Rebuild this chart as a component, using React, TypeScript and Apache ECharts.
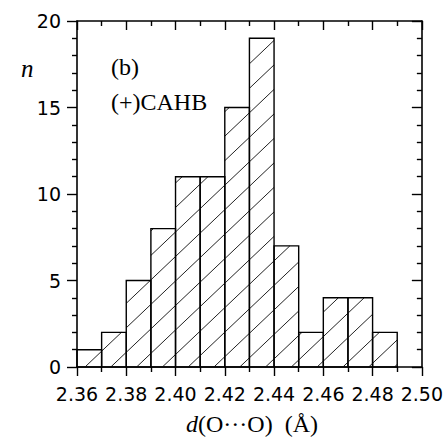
import React, { useEffect, useRef } from "react";
import * as echarts from "echarts";

// bin left edges (Å), bin width 0.01
const binStarts = [2.36, 2.37, 2.38, 2.39, 2.40, 2.41, 2.42, 2.43, 2.44, 2.45, 2.46, 2.47, 2.48];
const binWidth = 0.01;
const counts = [1, 2, 5, 8, 11, 11, 15, 19, 7, 2, 4, 4, 2];
const xTickLabels = ["2.36", "2.38", "2.40", "2.42", "2.44", "2.46", "2.48", "2.50"];
const yTickLabels = ["0", "5", "10", "15", "20"];

const SERIF = "Liberation Serif";
const SANS = "DejaVu Sans";

export default function App() {
  const ref = useRef<HTMLDivElement>(null);
  useEffect(() => {
    if (!ref.current) return;
    const chart = echarts.init(ref.current, undefined, { renderer: "svg" });
    const data = binStarts.map((s, i) => [s, +(s + binWidth).toFixed(2), counts[i]]);
    const slope = 0.95;
    const spacing = 24.5;
    const c0 = 447.75;
    const axisCommon = {
      type: "value" as const,
      splitLine: { show: false },
      axisLine: { show: true, onZero: false, lineStyle: { color: "#000", width: 1.6 } },
    };
    const tickStyle = { color: "#000", width: 1.4 };
    const option: any = {
      animation: false,
      backgroundColor: "#fff",
      grid: { left: 77, right: 22, top: 21, bottom: 71, containLabel: false },
      xAxis: [
        {
          ...axisCommon,
          position: "bottom",
          min: 2.36,
          max: 2.5,
          interval: 0.02,
          axisTick: { show: true, inside: false, length: 9, lineStyle: tickStyle },
          minorTick: { show: true, splitNumber: 2, length: 5, lineStyle: tickStyle },
          axisLabel: {
            show: true,
            margin: 17,
            color: "#000",
            fontFamily: SANS,
            fontSize: 19,
            showMaxLabel: true,
            showMinLabel: true,
            formatter: (v: number) => {
              const idx = Math.round((v - 2.36) / 0.02);
              return xTickLabels[idx] ?? v.toFixed(2);
            },
          },
        },
        {
          ...axisCommon,
          position: "top",
          min: 2.36,
          max: 2.5,
          interval: 0.02,
          axisTick: { show: true, inside: true, length: 9, lineStyle: tickStyle },
          minorTick: { show: true, splitNumber: 2, length: 5, lineStyle: tickStyle },
          axisLabel: { show: false },
        },
      ],
      yAxis: [
        {
          ...axisCommon,
          position: "left",
          min: 0,
          max: 20,
          interval: 5,
          axisTick: { show: true, inside: false, length: 10, lineStyle: tickStyle },
          minorTick: { show: true, splitNumber: 5, length: 5, lineStyle: tickStyle },
          axisLabel: {
            show: true,
            margin: 16,
            color: "#000",
            fontFamily: SANS,
            fontSize: 19,
            formatter: (v: number) => yTickLabels[Math.round(v / 5)] ?? String(v),
          },
        },
        {
          ...axisCommon,
          position: "right",
          min: 0,
          max: 20,
          interval: 5,
          axisTick: { show: true, inside: true, length: 10, lineStyle: tickStyle },
          minorTick: { show: true, splitNumber: 5, length: 5, lineStyle: tickStyle },
          axisLabel: { show: false },
        },
      ],
      series: [
        {
          type: "custom",
          xAxisIndex: 0,
          yAxisIndex: 0,
          data,
          encode: { x: [0, 1], y: 2 },
          renderItem: (params: any, api: any) => {
            const x0 = api.value(0);
            const x1 = api.value(1);
            const v = api.value(2);
            const p0 = api.coord([x0, v]);
            const p1 = api.coord([x1, 0]);
            const L = p0[0], T = p0[1], R = p1[0], B = p1[1];
            const children: any[] = [];
            const cMin = T + slope * L;
            const cMax = B + slope * R;
            const k = Math.ceil((cMin - c0) / spacing);
            for (let c = c0 + k * spacing; c <= cMax; c += spacing) {
              const xa = Math.max(L, (c - B) / slope);
              const xb = Math.min(R, (c - T) / slope);
              if (xb - xa > 0.5) {
                children.push({
                  type: "line",
                  shape: { x1: xa, y1: c - slope * xa, x2: xb, y2: c - slope * xb },
                  style: { stroke: "#222", lineWidth: 1 },
                });
              }
            }
            children.push({
              type: "rect",
              shape: { x: L, y: T, width: R - L, height: B - T },
              style: { fill: "none", stroke: "#000", lineWidth: 1.4 },
            });
            return { type: "group", children };
          },
        },
      ],
      graphic: [
        {
          type: "text",
          x: 21,
          y: 68,
          style: {
            text: "n",
            fontFamily: SERIF,
            fontStyle: "italic",
            fontSize: 25,
            fill: "#000",
            verticalAlign: "middle",
          },
        },
        {
          type: "text",
          x: 111,
          y: 67,
          style: { text: "(b)", fontFamily: SERIF, fontSize: 24, fill: "#000", verticalAlign: "middle" },
        },
        {
          type: "text",
          x: 111,
          y: 102,
          style: { text: "(+)CAHB", fontFamily: SERIF, fontSize: 24, fill: "#000", verticalAlign: "middle" },
        },
        {
          type: "text",
          x: 252,
          y: 424,
          style: {
            text: "{i|d}{r|(O\u00B7\u00B7\u00B7O)\u00A0\u00A0(Å)}",
            fontFamily: SERIF,
            fontSize: 24,
            fill: "#000",
            align: "center",
            verticalAlign: "middle",
            rich: {
              i: { fontStyle: "italic", fontFamily: SERIF, fontSize: 24, fill: "#000" },
              r: { fontFamily: SERIF, fontSize: 24, fill: "#000" },
            },
          },
        },
      ],
    };
    chart.setOption(option);
    return () => chart.dispose();
  }, []);
  return (
    <div
      ref={ref}
      style={{ position: "fixed", left: 0, top: 0, width: 446, height: 438, background: "#fff" }}
    />
  );
}
